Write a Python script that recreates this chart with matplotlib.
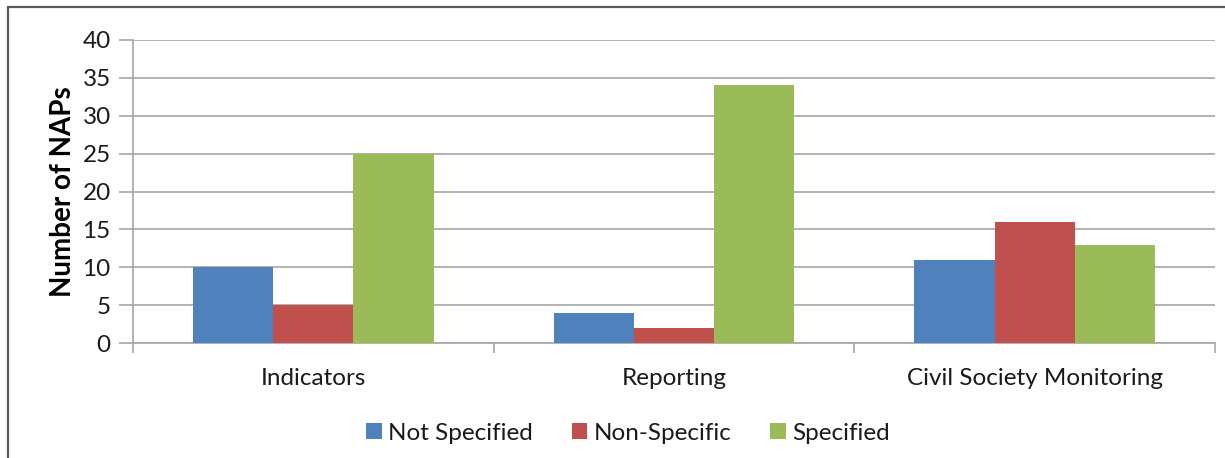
import numpy as np
import matplotlib
matplotlib.use("Agg")
import matplotlib.pyplot as plt
from matplotlib.patches import Rectangle

categories = ["Indicators", "Reporting", "Civil Society Monitoring"]
series_names = ["Not Specified", "Non-Specific", "Specified"]
not_specified = [10, 4, 11]
non_specific = [5, 2, 16]
specified = [25, 34, 13]
colors = ["#4F81BD", "#C0504D", "#9BBB59"]
y_ticks = [0, 5, 10, 15, 20, 25, 30, 35, 40]

plt.rcParams["font.family"] = ["Lato", "DejaVu Sans"]

W, H = 1225, 458
fig = plt.figure(figsize=(W / 100, H / 100), dpi=100)
ax = fig.add_axes([133 / W, (H - 343) / H, (1215 - 133) / W, (343 - 40) / H])

x = np.arange(len(categories))
width = 80 / 360
for i, (vals, name, col) in enumerate(zip([not_specified, non_specific, specified], series_names, colors)):
    ax.bar(x + (i - 1) * width, vals, width=width, color=col, label=name, zorder=3)

grid_col = "#A6A6A6"
txt_col = "#1A1A1A"
ax.set_xlim(-0.5, len(categories) - 0.5)
ax.set_ylim(0, 40)
ax.set_yticks(y_ticks)
ax.yaxis.grid(True, color=grid_col, linewidth=1.2, zorder=0)
ax.tick_params(axis="y", length=10, width=1.2, color=grid_col, labelsize=17.5, pad=6, labelcolor=txt_col)

ax.set_xticks(x)
ax.set_xticklabels(categories)
ax.set_xticks(np.arange(len(categories) + 1) - 0.5, minor=True)
ax.tick_params(axis="x", which="major", length=0, labelsize=17.5, pad=18, labelcolor=txt_col)
ax.tick_params(axis="x", which="minor", length=7, width=1.2, color=grid_col)

for side in ["top", "right"]:
    ax.spines[side].set_visible(False)
for side in ["left", "bottom"]:
    ax.spines[side].set_color(grid_col)
    ax.spines[side].set_linewidth(1.2)

ax.set_ylabel("Number of NAPs", fontsize=20, fontweight="bold", labelpad=5, color="#000000")

leg = fig.legend(loc="center", bbox_to_anchor=(628 / W, (H - 433) / H), ncol=3,
                 frameon=False, fontsize=17.5, handlelength=0.65, handleheight=0.65,
                 handletextpad=0.25, columnspacing=1.6)
for t in leg.get_texts():
    t.set_color(txt_col)

# outer chart border
fig.patches.append(Rectangle((8 / W, -0.1), 1.2, (H - 7) / H + 0.1, transform=fig.transFigure,
                             fill=False, edgecolor="#595959", linewidth=1.6))

fig.savefig("out.png", dpi=100)
